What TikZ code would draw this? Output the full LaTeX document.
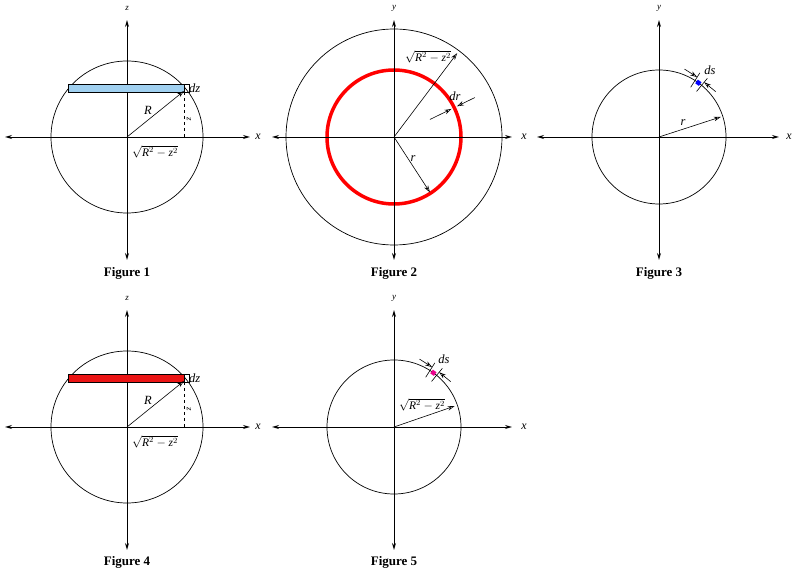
\documentclass[tikz,border=0pt]{standalone}
\usepackage{fontspec}
\setmainfont{Liberation Serif}
\usetikzlibrary{arrows.meta,calc}
\definecolor{stripblue}{RGB}{160,208,240}
\definecolor{stripred}{RGB}{235,20,20}
\definecolor{ringred}{RGB}{255,0,0}
\newcommand{\sqlab}{$\sqrt{\textit{R}^{2}-\textit{z}^{2}}$}
\begin{document}
\begin{tikzpicture}[x=1pt,y=1pt,
  axis/.style={line width=0.9pt,{Stealth[open,length=7pt,width=4pt]}-{Stealth[open,length=7pt,width=4pt]}},
  circ/.style={line width=0.7pt},
  vec/.style={line width=0.6pt,-{Stealth[open,length=7pt,width=4.5pt]}},
  lab/.style={font=\fontsize{12.5}{12.5}\selectfont\itshape,inner sep=0pt},
  axlab/.style={font=\fontsize{12}{12}\selectfont\itshape,inner sep=0pt},
  toplab/.style={font=\fontsize{9}{9}\selectfont\itshape,inner sep=0pt},
  figcap/.style={font=\fontsize{13}{13}\selectfont\bfseries,inner sep=0pt},
  dstick/.style={line width=0.6pt}]
\useasboundingbox (0,0) rectangle (800,581);

% ---------- Figure 1 ----------
\begin{scope}[shift={(127,444)}]
  \coordinate (A1O) at (0,0);
  \coordinate (A1xl) at (-122,0);
  \coordinate (A1xr) at (123,0);
  \coordinate (A1zt) at (0,117);
  \coordinate (A1zb) at (0,-123);
  \draw[circ] (A1O) circle[radius=76];
  \draw[axis] (A1xl) -- (A1xr);
  \draw[axis] (A1zb) -- (A1zt);
  \node[axlab] (A1x) at (131,0) {x};
  \node[toplab] (A1z) at (0,129) {z};
  \draw[line width=0.6pt,fill=stripblue] (-59,45) rectangle (57,53);
  \draw[line width=0.6pt] (57,45) rectangle (62,53);
  \coordinate (A1P) at (57,46);
  \coordinate (A1Pb) at (57,45);
  \coordinate (A1Q) at (57,0);
  \draw[vec] (A1O) -- (A1P);
  \draw[dashed,line width=0.6pt] (A1Pb) -- (A1Q);
  \node[lab] (A1R) at (21,27) {R};
  \node[toplab,rotate=-90] (A1zz) at (62,18) {z};
  \node[lab,anchor=west] (A1dz) at (62,49) {dz};
  \node[lab,font=\fontsize{11.5}{11.5}\selectfont] (A1s) at (28,-15) {\sqlab};
  \node[figcap] (A1c) at (0,-136) {Figure 1};
\end{scope}

% ---------- Figure 2 ----------
\begin{scope}[shift={(394,444)}]
  \coordinate (B2O) at (0,0);
  \coordinate (B2xl) at (-122,0);
  \coordinate (B2xr) at (118,0);
  \coordinate (B2yt) at (0,117);
  \coordinate (B2yb) at (0,-123);
  \draw[circ] (B2O) circle[radius=108];
  \draw[ringred,line width=3.5pt] (B2O) circle[radius=67];
  \draw[axis] (B2xl) -- (B2xr);
  \draw[axis] (B2yb) -- (B2yt);
  \node[axlab] (B2x) at (130,0) {x};
  \node[toplab] (B2y) at (0,129) {y};
  \coordinate (B2S) at (53:105);
  \draw[vec] (B2O) -- (B2S);
  \node[lab,font=\fontsize{11.5}{11.5}\selectfont] (B2sl) at (34,80) {\sqlab};
  \coordinate (B2r) at (-57:66);
  \draw[vec] (B2O) -- (B2r);
  \node[lab] (B2rl) at (19,-22) {r};
  \coordinate (B2i0) at (26:40);
  \coordinate (B2i1) at (26:64);
  \coordinate (B2o0) at (26:90);
  \coordinate (B2o1) at (26:70);
  \draw[vec] (B2i0) -- (B2i1);
  \draw[vec] (B2o0) -- (B2o1);
  \node[lab] (B2dr) at (61,41) {dr};
  \node[figcap] (B2c) at (0,-136) {Figure 2};
\end{scope}

% ---------- Figure 3 ----------
\begin{scope}[shift={(659,444)}]
  \coordinate (C3O) at (0,0);
  \coordinate (C3xl) at (-122,0);
  \coordinate (C3xr) at (120,0);
  \coordinate (C3yt) at (0,117);
  \coordinate (C3yb) at (0,-123);
  \draw[circ] (C3O) circle[radius=67];
  \draw[axis] (C3xl) -- (C3xr);
  \draw[axis] (C3yb) -- (C3yt);
  \node[axlab] (C3x) at (130,0) {x};
  \node[toplab] (C3y) at (0,129) {y};
  \coordinate (C3r) at (18:65);
  \draw[vec] (C3O) -- (C3r);
  \node[lab] (C3rl) at (24,14) {r};
  \node[fill=blue,minimum size=4.5pt,inner sep=0pt,rotate=54] (C3sq) at (54:67) {};
  \coordinate (C3a0) at (50.5:59);
  \coordinate (C3a1) at (50.5:76);
  \coordinate (C3b0) at (57.5:59);
  \coordinate (C3b1) at (57.5:76);
  \draw[dstick] (C3a0) -- (C3a1);
  \draw[dstick] (C3b0) -- (C3b1);
  \coordinate (C3T1) at (57.5:71);
  \coordinate (C3T2) at (50.5:71);
  \coordinate (C3U1) at ($(C3T1)+(-12.6,8)$);
  \coordinate (C3U2) at ($(C3T2)+(11.6,-9.5)$);
  \draw[vec] (C3U1) -- (C3T1);
  \draw[vec] (C3U2) -- (C3T2);
  \node[lab] (C3ds) at (51,67) {ds};
  \node[figcap] (C3c) at (0,-136) {Figure 3};
\end{scope}

% ---------- Figure 4 ----------
\begin{scope}[shift={(127,154)}]
  \coordinate (D4O) at (0,0);
  \coordinate (D4xl) at (-122,0);
  \coordinate (D4xr) at (123,0);
  \coordinate (D4zt) at (0,117);
  \coordinate (D4zb) at (0,-123);
  \draw[circ] (D4O) circle[radius=76];
  \draw[axis] (D4xl) -- (D4xr);
  \draw[axis] (D4zb) -- (D4zt);
  \node[axlab] (D4x) at (131,0) {x};
  \node[toplab] (D4z) at (0,129) {z};
  \draw[line width=0.6pt,fill=stripred] (-59,45) rectangle (57,53);
  \draw[line width=0.6pt] (57,45) rectangle (62,53);
  \coordinate (D4P) at (57,46);
  \coordinate (D4Pb) at (57,45);
  \coordinate (D4Q) at (57,0);
  \draw[vec] (D4O) -- (D4P);
  \draw[dashed,line width=0.6pt] (D4Pb) -- (D4Q);
  \node[lab] (D4R) at (21,27) {R};
  \node[toplab,rotate=-90] (D4zz) at (62,18) {z};
  \node[lab,anchor=west] (D4dz) at (62,49) {dz};
  \node[lab,font=\fontsize{11.5}{11.5}\selectfont] (D4s) at (28,-15) {\sqlab};
  \node[figcap] (D4c) at (0,-135) {Figure 4};
\end{scope}

% ---------- Figure 5 ----------
\begin{scope}[shift={(394,154)}]
  \coordinate (E5O) at (0,0);
  \coordinate (E5xl) at (-122,0);
  \coordinate (E5xr) at (118,0);
  \coordinate (E5yt) at (0,117);
  \coordinate (E5yb) at (0,-123);
  \draw[circ] (E5O) circle[radius=67];
  \draw[axis] (E5xl) -- (E5xr);
  \draw[axis] (E5yb) -- (E5yt);
  \node[axlab] (E5x) at (130,0) {x};
  \node[toplab] (E5y) at (0,129) {y};
  \coordinate (E5r) at (19:64);
  \draw[vec] (E5O) -- (E5r);
  \node[lab,font=\fontsize{11.5}{11.5}\selectfont] (E5sl) at (28,22) {\sqlab};
  \node[fill=magenta,minimum size=4.5pt,inner sep=0pt,rotate=54] (E5sq) at (54:67) {};
  \coordinate (E5a0) at (50.5:59);
  \coordinate (E5a1) at (50.5:76);
  \coordinate (E5b0) at (57.5:59);
  \coordinate (E5b1) at (57.5:76);
  \draw[dstick] (E5a0) -- (E5a1);
  \draw[dstick] (E5b0) -- (E5b1);
  \coordinate (E5T1) at (57.5:71);
  \coordinate (E5T2) at (50.5:71);
  \coordinate (E5U1) at ($(E5T1)+(-12.6,8)$);
  \coordinate (E5U2) at ($(E5T2)+(11.6,-9.5)$);
  \draw[vec] (E5U1) -- (E5T1);
  \draw[vec] (E5U2) -- (E5T2);
  \node[lab] (E5ds) at (50,68) {ds};
  \node[figcap] (E5c) at (0,-135) {Figure 5};
\end{scope}
\end{tikzpicture}
\end{document}
